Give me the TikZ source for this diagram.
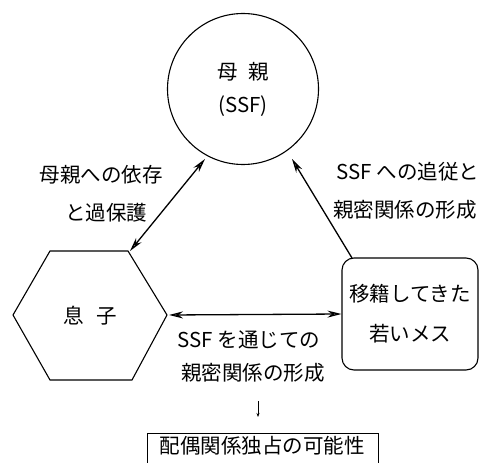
\documentclass[tikz,border=0pt]{standalone}
\usepackage{fontspec}
\setmainfont{Noto Sans CJK JP}
\usetikzlibrary{arrows.meta,shapes.geometric}
\begin{document}
\begin{tikzpicture}[x=1pt,y=-1pt,
  lbl/.style={font=\fontsize{20.5}{24}\selectfont, inner sep=0pt, align=center},
  tip/.style={Stealth[length=14pt,width=7pt,fill=gray!50]},
  conn/.style={line width=1.3pt, {Stealth[length=14pt,width=7pt,fill=gray!50]}-{Stealth[length=14pt,width=7pt,fill=gray!50]}},
  conn1/.style={line width=1.3pt, -{Stealth[length=14pt,width=7pt,fill=gray!50]}},
  shp/.style={draw, line width=1.1pt}]
\useasboundingbox (0,0) rectangle (486,462);
% mother circle
\node[shp, circle, minimum size=151pt] (mom) at (243,89) {};
\node[lbl] (momt) at (243,72) {母\hspace{0.5em}親};
\node[lbl] (ssf) at (243,106) {(SSF)};
% son hexagon
\draw[shp] (13,315) -- (50,251) -- (128,251) -- (167,315) -- (132,380) -- (50,380) -- cycle;
\coordinate (sonR) at (169,315);
\coordinate (sonT) at (130,251);
\node[lbl] (son) at (90,316) {息\hspace{0.6em}子};
% young female
\node[shp, rounded corners=12pt, minimum width=136pt, minimum height=112pt] (fem) at (410,314) {};
\node[lbl] (femt1) at (410,294) {移籍してきた};
\node[lbl] (femt2) at (410,334) {若いメス};
% connectors
\coordinate (momL) at (205,159);
\coordinate (momR) at (292,159);
\coordinate (femTL) at (352,258);
\draw[conn] (sonT) -- (momL);
\draw[conn1] (femTL) -- (momR);
\draw[conn] (sonR) -- (fem.west);
% labels
\node[lbl] (l1a) at (101,175) {母親への依存};
\node[lbl] (l1b) at (106,213) {と過保護};
\node[lbl] (l2a) at (408,172) {SSF への追従と};
\node[lbl] (l2b) at (405,210) {親密関係の形成};
\node[lbl] (l3a) at (249,340) {SSF を通じての};
\node[lbl] (l3b) at (253,373) {親密関係の形成};
% bottom
\node[shp, minimum width=231pt, minimum height=40pt, anchor=north west, inner sep=0pt] (res) at (147,433) {};
\node[lbl] (rest) at (262,446) {配偶関係独占の可能性};
\coordinate (da) at (258,401);
\coordinate (db) at (258,417);
\draw[line width=0.6pt, -{Stealth[length=4pt,width=3pt]}] (da) -- (db);
\end{tikzpicture}
\end{document}
